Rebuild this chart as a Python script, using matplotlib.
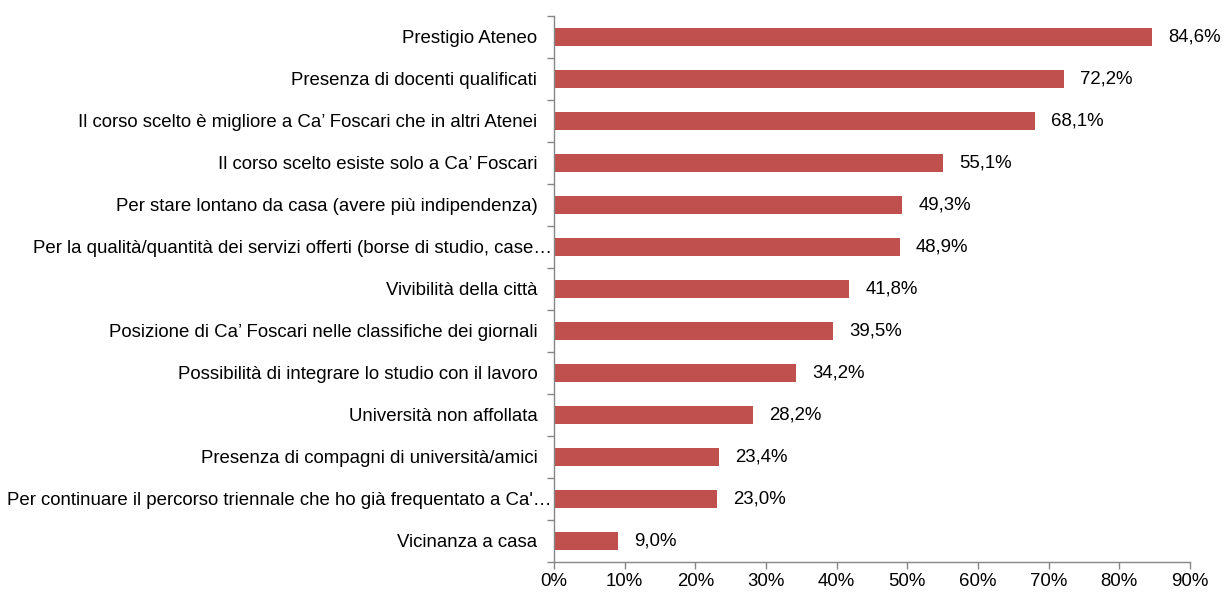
import numpy as np
import matplotlib.pyplot as plt
from matplotlib.ticker import FixedLocator, NullFormatter
from matplotlib.transforms import ScaledTranslation

plt.rcParams['font.family'] = ['Liberation Sans', 'DejaVu Sans']

categories = [
    "Prestigio Ateneo",
    "Presenza di docenti qualificati",
    "Il corso scelto è migliore a Ca’ Foscari che in altri Atenei",
    "Il corso scelto esiste solo a Ca’ Foscari",
    "Per stare lontano da casa (avere più indipendenza)",
    "Per la qualità/quantità dei servizi offerti (borse di studio, case…",
    "Vivibilità della città",
    "Posizione di Ca’ Foscari nelle classifiche dei giornali",
    "Possibilità di integrare lo studio con il lavoro",
    "Università non affollata",
    "Presenza di compagni di università/amici",
    "Per continuare il percorso triennale che ho già frequentato a Ca'…",
    "Vicinanza a casa",
]
values = [84.6, 72.2, 68.1, 55.1, 49.3, 48.9, 41.8, 39.5, 34.2, 28.2, 23.4, 23.0, 9.0]
xticks = [0, 10, 20, 30, 40, 50, 60, 70, 80, 90]

fs = 13.4

fig = plt.figure(figsize=(12.24, 5.92), dpi=100)
ax = fig.add_axes([0.4526, 0.0507, 0.5196, 0.9223])

y = np.arange(len(categories))
ax.barh(y, values, height=0.41, color='#C0504D')
ax.set_ylim(len(categories) - 0.5, -0.5)
ax.set_xlim(0, 90)

for yi, v in zip(y, values):
    ax.text(v + 2.3, yi, f"{v:.1f}%".replace('.', ','), va='center', ha='left', fontsize=fs)

ax.set_yticks(y)
ax.set_yticklabels(categories, fontsize=fs)
ax.tick_params(axis='y', length=0, pad=12)
ax.yaxis.set_minor_locator(FixedLocator(np.arange(-0.5, len(categories), 1)))
ax.yaxis.set_minor_formatter(NullFormatter())
ax.tick_params(axis='y', which='minor', length=5, color='#868686', width=1)

# truncated labels sit closer to the axis
for lab in ax.get_yticklabels():
    if lab.get_text().endswith('…'):
        lab.set_transform(lab.get_transform() + ScaledTranslation(10.5 / 72, 0, fig.dpi_scale_trans))

ax.set_xticks(xticks)
ax.set_xticklabels([f"{t}%" for t in xticks], fontsize=fs)
ax.tick_params(axis='x', length=5, color='#868686', width=1, pad=3)

for s in ['top', 'right']:
    ax.spines[s].set_visible(False)
for s in ['left', 'bottom']:
    ax.spines[s].set_color('#868686')
    ax.spines[s].set_linewidth(1)

plt.savefig('out.png', dpi=100)
